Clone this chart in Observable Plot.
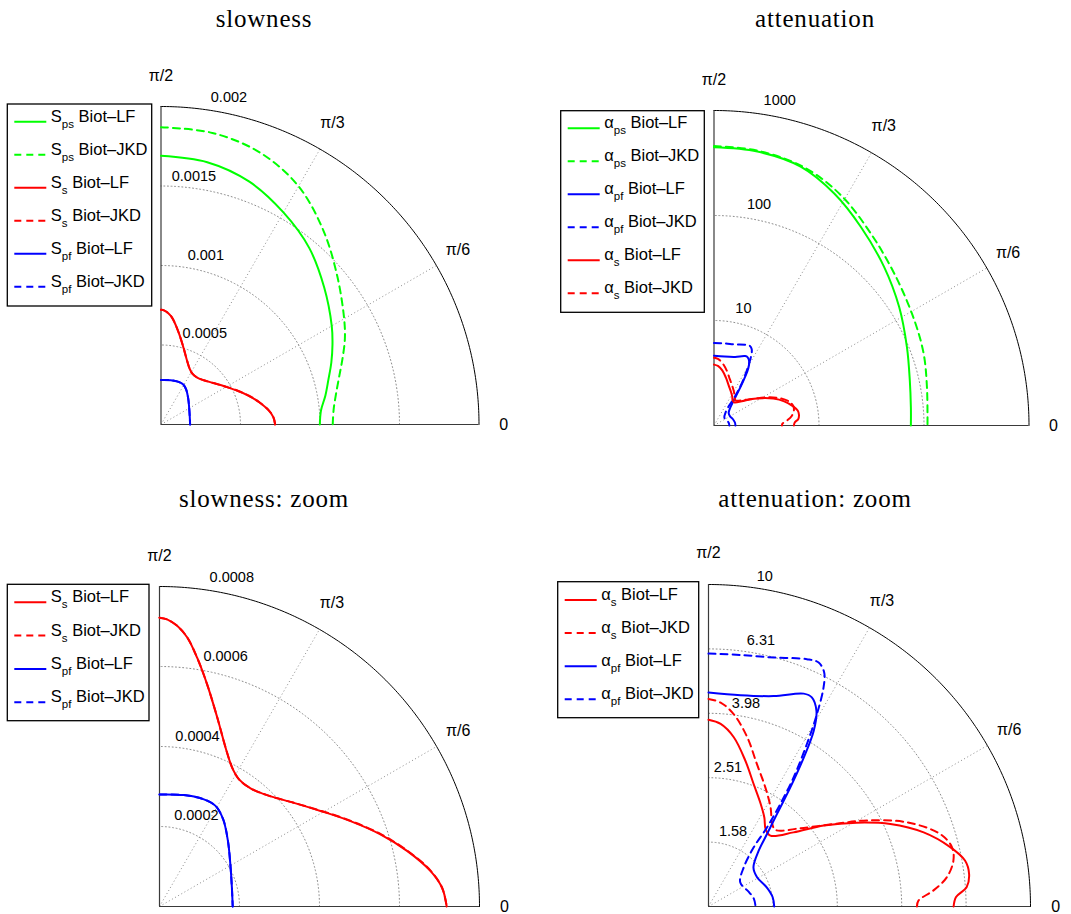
<!DOCTYPE html>
<html><head><meta charset="utf-8">
<script src="https://cdn.jsdelivr.net/npm/d3@7"></script>
<script src="https://cdn.jsdelivr.net/npm/@observablehq/plot@0.6"></script>
<style>
html,body{margin:0;padding:0;background:#fff;}
#page{position:relative;width:1071px;height:914px;overflow:hidden;background:#fff;}
#page > svg, #page > div{position:absolute;}
</style></head><body><div id="page"></div>
<script>
// ---------------- DATA ----------------
// angle ticks (degrees) and their labels
const angleTicks = [0, 30, 60, 90];
const angleTickLabels = ["0", "π/6", "π/3", "π/2"];

// ring ticks
const slowRings = [0.0005, 0.001, 0.0015, 0.002];
const slowRingLabels = ["0.0005", "0.001", "0.0015", "0.002"];
const slowZoomRings = [0.0002, 0.0004, 0.0006, 0.0008];
const slowZoomRingLabels = ["0.0002", "0.0004", "0.0006", "0.0008"];
const attRings = [10, 100, 1000];
const attRingLabels = ["10", "100", "1000"];
const attZoomRings = [1.5849, 2.5119, 3.9811, 6.3096, 10];
const attZoomRingLabels = ["1.58", "2.51", "3.98", "6.31", "10"];

// slowness S_ps (s/m)
const SpsLF_theta = [90, 80, 70, 60, 50, 40, 30, 25, 20, 15, 10, 5, 0];
const SpsLF = [0.00169, 0.001675, 0.001625, 0.00154, 0.00145, 0.00134, 0.00124, 0.00119, 0.00114, 0.00109, 0.00105, 0.00101, 0.000999];
const SpsJKD_theta = [90, 80, 70, 60, 50, 40, 30, 25, 20, 15, 10, 5, 0];
const SpsJKD = [0.00187, 0.001862, 0.00182, 0.00173, 0.00159, 0.001448, 0.00133, 0.001276, 0.001215, 0.00116, 0.001118, 0.00109, 0.00108];
// slowness S_s
const SsLF_theta = [90, 88.5, 86.4, 84.1, 81.4, 77.9, 73.0, 67.4, 62.4, 58.0, 52.4, 46.0, 37.7, 30.7, 24.1, 18.1, 12.6, 7.5, 3.8, 0];
const SsLF = [0.000722, 0.000718, 0.000703, 0.000676, 0.000629, 0.000568, 0.000494, 0.00043, 0.000392, 0.000375, 0.000373, 0.000387, 0.000424, 0.000468, 0.000523, 0.000581, 0.000635, 0.000683, 0.000708, 0.000718];
const SsJKD_theta = [90, 88.5, 86.4, 84.1, 81.4, 77.9, 73.0, 67.4, 62.4, 58.0, 52.4, 46.0, 37.7, 30.7, 24.1, 18.1, 12.6, 7.5, 3.8, 0];
const SsJKD = [0.000722, 0.000718, 0.000703, 0.000676, 0.000629, 0.000568, 0.000494, 0.00043, 0.000392, 0.000375, 0.000373, 0.000387, 0.000424, 0.000469, 0.000524, 0.000582, 0.000636, 0.000684, 0.000708, 0.000718];
// slowness S_pf
const SpfLF_theta = [90, 77.7, 67.5, 60.9, 53.9, 43.8, 30.7, 14.6, 0];
const SpfLF = [0.00028, 0.000285, 0.00029, 0.000288, 0.00027, 0.000237, 0.000206, 0.000187, 0.000183];
const SpfJKD_theta = [90, 77.7, 67.5, 60.9, 53.9, 43.8, 30.7, 14.6, 0];
const SpfJKD = [0.00028, 0.000285, 0.00029, 0.000288, 0.00027, 0.000237, 0.000206, 0.000187, 0.000183];

// attenuation alpha_ps
const apsLF_theta = [90, 81.0, 71.5, 62.6, 53.5, 43.0, 32.6, 22.1, 13.0, 5.3, 0];
const apsLF = [446, 438, 398, 308, 225, 164, 124, 96.2, 82.0, 76.4, 75.0];
const apsJKD_theta = [90, 81.1, 70.8, 61.2, 50.8, 39.3, 27.7, 18.9, 10.2, 0];
const apsJKD = [459, 447, 402, 320, 230, 173, 143, 129, 115, 108];
// attenuation alpha_pf
const apfLF_theta = [90, 81.4, 72.8, 65.9, 63.7, 61.1, 59.1, 57.4, 55.5, 53.5, 51.1, 48.0, 40.9, 31.1, 18.2, 8.2, 0];
const apfLF = [4.62, 4.61, 4.83, 5.30, 5.30, 4.94, 4.33, 3.54, 2.81, 2.28, 1.95, 1.71, 1.53, 1.50, 1.55, 1.59, 1.60];
const apfJKD_theta = [90, 82.8, 75.3, 68.3, 65.7, 63.7, 62.3, 60.6, 58.8, 56.6, 55.0, 53.5, 52.6, 48.1, 37.3, 19.6, 9.6, 0];
const apfJKD = [6.10, 6.13, 6.30, 6.71, 6.78, 6.47, 5.87, 4.85, 3.89, 3.02, 2.45, 2.02, 1.70, 1.46, 1.33, 1.36, 1.39, 1.40];
// attenuation alpha_s
const asLF_theta = [90, 86.2, 81.5, 75.8, 69.7, 63.1, 57.9, 53.6, 48.9, 41.1, 35.1, 29.5, 24.4, 19.0, 13.8, 10.1, 7.1, 4.3, 2.2, 0];
const asLF = [3.80, 3.70, 3.40, 2.93, 2.54, 2.28, 2.12, 1.99, 1.96, 2.24, 2.74, 3.38, 4.17, 5.09, 5.93, 6.45, 6.54, 6.37, 5.88, 5.77];
const asJKD_theta = [90, 86.6, 82.5, 77.1, 71.2, 64.5, 58.0, 52.4, 48.8, 40.4, 33.4, 28.5, 23.0, 17.4, 13.7, 10.6, 7.0, 4.1, 1.6, 0];
const asJKD = [4.41, 4.31, 4.00, 3.46, 2.93, 2.57, 2.31, 2.11, 2.07, 2.37, 2.92, 3.63, 4.67, 5.67, 6.00, 5.94, 5.57, 5.02, 4.49, 4.44];

const titles = ["slowness", "attenuation", "slowness: zoom", "attenuation: zoom"];

// ---------------- STYLE / LAYOUT ----------------
const GREEN = "#00ff00", RED = "#ff0000", BLUE = "#0000ff";
const DASH = "7,5";
const GRID = "#8c8c8c";
const deg = Math.PI / 180;
const linR = v => v;
const logR = v => Math.log10(v);

function toXY(thetas, vals, radial) {
  return thetas.map((t, i) => ({x: radial(vals[i]) * Math.cos(t * deg), y: radial(vals[i]) * Math.sin(t * deg)}));
}

function panel(cfg) {
  const {left, top, width, height, ox, oy, R, rings, ringLabels, labelShift, radial, series} = cfg;
  const rmax = radial(rings[rings.length - 1]);
  const step = radial(rings[1]) - radial(rings[0]);
  const ml = ox - left, mt = oy - R - top, mr = left + width - ox - R, mb = top + height - oy;
  const arc = r => d3.range(0, 90.001, 0.5).map(a => [r * Math.cos(a * deg), r * Math.sin(a * deg)]);
  const marks = [];
  rings.slice(0, -1).forEach(v => marks.push(Plot.line(arc(radial(v)), {x: d => d[0], y: d => d[1], stroke: GRID, strokeWidth: 1, strokeDasharray: "1,2.6"})));
  marks.push(Plot.link(angleTicks.filter(a => a > 0 && a < 90), {
    x1: () => 0, y1: () => 0,
    x2: a => rmax * Math.cos(a * deg), y2: a => rmax * Math.sin(a * deg),
    stroke: GRID, strokeWidth: 1, strokeDasharray: "1,2.6"}));
  marks.push(Plot.line(arc(rmax), {x: d => d[0], y: d => d[1], stroke: "#000", strokeWidth: 1}));
  marks.push(Plot.ruleY([0], {x1: () => 0, x2: () => rmax, stroke: "#3a3a3a", strokeWidth: 1.2}));
  marks.push(Plot.ruleX([0], {y1: () => 0, y2: () => rmax, stroke: "#3a3a3a", strokeWidth: 1.2}));
  // ring labels (MATLAB polar style: at 82 degrees, left/bottom aligned; some moved off the curves)
  rings.forEach((v, i) => marks.push(Plot.text([i], {
    x: () => (radial(v) + step / 20) * Math.cos(82 * deg),
    y: () => (radial(v) + step / 20) * Math.sin(82 * deg),
    text: () => ringLabels[i], textAnchor: "start", lineAnchor: "bottom",
    dx: 5 + labelShift[i], dy: -3.5, fontSize: 14.5})));
  // angle labels
  marks.push(Plot.text(angleTicks, {
    x: a => 1.078 * rmax * Math.cos(a * deg), y: a => 1.097 * rmax * Math.sin(a * deg),
    text: (a, i) => angleTickLabels[i], textAnchor: "middle", lineAnchor: "middle", fontSize: 16}));
  series.forEach(s => marks.push(Plot.line(toXY(s.theta, s.values, radial), {
    x: "x", y: "y", stroke: s.color, strokeWidth: 2, strokeDasharray: s.dash ? DASH : null, curve: "catmull-rom"})));
  const svg = Plot.plot({
    width, height, marginLeft: ml, marginTop: mt, marginRight: mr, marginBottom: mb,
    x: {domain: [0, rmax], axis: null}, y: {domain: [0, rmax], axis: null},
    style: {fontFamily: "'Liberation Sans', Arial, Helvetica, sans-serif", background: "transparent", overflow: "visible", color: "#000"},
    marks
  });
  svg.style.left = left + "px";
  svg.style.top = top + "px";
  return svg;
}

const page = document.getElementById("page");

// overlay: titles and legends
const ov = d3.select(page).append("svg").attr("width", 1071).attr("height", 914).style("left", "0px").style("top", "0px");
const titlePos = [[264, 27], [815, 27], [264, 507], [815, 507]];
titles.forEach((t, i) => ov.append("text").attr("x", titlePos[i][0]).attr("y", titlePos[i][1])
  .attr("text-anchor", "middle").attr("font-family", "'Liberation Serif', 'Times New Roman', serif")
  .attr("font-size", 25).attr("letter-spacing", 0.8).text(t));

function legend(x0, y0, w, h, y1, dy, entries) {
  const g = ov.append("g").attr("transform", `translate(${x0},${y0})`)
    .attr("font-family", "'Liberation Sans', Arial, Helvetica, sans-serif");
  g.append("rect").attr("x", 0).attr("y", 0).attr("width", w).attr("height", h)
    .attr("fill", "#fff").attr("stroke", "#000").attr("stroke-width", 1.3);
  entries.forEach((e, i) => {
    const y = y1 + i * dy;
    g.append("line").attr("x1", 7).attr("x2", 39).attr("y1", y).attr("y2", y)
      .attr("stroke", e.color).attr("stroke-width", 2).attr("stroke-dasharray", e.dash ? DASH : null);
    const t = g.append("text").attr("x", 43.5).attr("y", y).attr("font-size", 16.5);
    t.append("tspan").text(e.sym);
    t.append("tspan").attr("dy", 6).attr("font-size", 11.5).text(e.sub);
    t.append("tspan").attr("dy", -6).text("\u00a0Biot\u2013" + e.model);
  });
}

legend(7.3, 104, 144.4, 202, 17.7, 33, [
  {sym: "S", sub: "ps", model: "LF", color: GREEN, dash: false},
  {sym: "S", sub: "ps", model: "JKD", color: GREEN, dash: true},
  {sym: "S", sub: "s", model: "LF", color: RED, dash: false},
  {sym: "S", sub: "s", model: "JKD", color: RED, dash: true},
  {sym: "S", sub: "pf", model: "LF", color: BLUE, dash: false},
  {sym: "S", sub: "pf", model: "JKD", color: BLUE, dash: true}]);
legend(560.7, 110.7, 143.6, 201.6, 17.6, 33, [
  {sym: "α", sub: "ps", model: "LF", color: GREEN, dash: false},
  {sym: "α", sub: "ps", model: "JKD", color: GREEN, dash: true},
  {sym: "α", sub: "pf", model: "LF", color: BLUE, dash: false},
  {sym: "α", sub: "pf", model: "JKD", color: BLUE, dash: true},
  {sym: "α", sub: "s", model: "LF", color: RED, dash: false},
  {sym: "α", sub: "s", model: "JKD", color: RED, dash: true}]);
legend(7.3, 584.3, 141.7, 136.4, 18, 33.3, [
  {sym: "S", sub: "s", model: "LF", color: RED, dash: false},
  {sym: "S", sub: "s", model: "JKD", color: RED, dash: true},
  {sym: "S", sub: "pf", model: "LF", color: BLUE, dash: false},
  {sym: "S", sub: "pf", model: "JKD", color: BLUE, dash: true}]);
legend(557.7, 581.7, 141, 136, 18.3, 33.1, [
  {sym: "α", sub: "s", model: "LF", color: RED, dash: false},
  {sym: "α", sub: "s", model: "JKD", color: RED, dash: true},
  {sym: "α", sub: "pf", model: "LF", color: BLUE, dash: false},
  {sym: "α", sub: "pf", model: "JKD", color: BLUE, dash: true}]);

// panels
page.appendChild(panel({left: 0, top: 40, width: 531, height: 440, ox: 160.5, oy: 424, R: 318,
  rings: slowRings, ringLabels: slowRingLabels, labelShift: [5, -1, -28, 0], radial: linR, series: [
    {theta: SpsLF_theta, values: SpsLF, color: GREEN, dash: false},
    {theta: SpsJKD_theta, values: SpsJKD, color: GREEN, dash: true},
    {theta: SsJKD_theta, values: SsJKD, color: RED, dash: true},
    {theta: SsLF_theta, values: SsLF, color: RED, dash: false},
    {theta: SpfJKD_theta, values: SpfJKD, color: BLUE, dash: true},
    {theta: SpfLF_theta, values: SpfLF, color: BLUE, dash: false}]}));
page.appendChild(panel({left: 540, top: 40, width: 531, height: 440, ox: 713.5, oy: 425, R: 315,
  rings: attRings, ringLabels: attRingLabels, labelShift: [1, -2, 0], radial: logR, series: [
    {theta: apsLF_theta, values: apsLF, color: GREEN, dash: false},
    {theta: apsJKD_theta, values: apsJKD, color: GREEN, dash: true},
    {theta: apfLF_theta, values: apfLF, color: BLUE, dash: false},
    {theta: apfJKD_theta, values: apfJKD, color: BLUE, dash: true},
    {theta: asLF_theta, values: asLF, color: RED, dash: false},
    {theta: asJKD_theta, values: asJKD, color: RED, dash: true}]}));
page.appendChild(panel({left: 0, top: 520, width: 531, height: 394, ox: 159, oy: 906, R: 320,
  rings: slowZoomRings, ringLabels: slowZoomRingLabels, labelShift: [-2, -12, 5, 0], radial: linR, series: [
    {theta: SsJKD_theta, values: SsJKD, color: RED, dash: true},
    {theta: SsLF_theta, values: SsLF, color: RED, dash: false},
    {theta: SpfJKD_theta, values: SpfJKD, color: BLUE, dash: true},
    {theta: SpfLF_theta, values: SpfLF, color: BLUE, dash: false}]}));
page.appendChild(panel({left: 540, top: 520, width: 531, height: 394, ox: 708, oy: 906, R: 322,
  rings: attZoomRings, ringLabels: attZoomRingLabels, labelShift: [-4, -18, -9, -3, -2], radial: logR, series: [
    {theta: asLF_theta, values: asLF, color: RED, dash: false},
    {theta: asJKD_theta, values: asJKD, color: RED, dash: true},
    {theta: apfLF_theta, values: apfLF, color: BLUE, dash: false},
    {theta: apfJKD_theta, values: apfJKD, color: BLUE, dash: true}]}));
</script></body></html>
